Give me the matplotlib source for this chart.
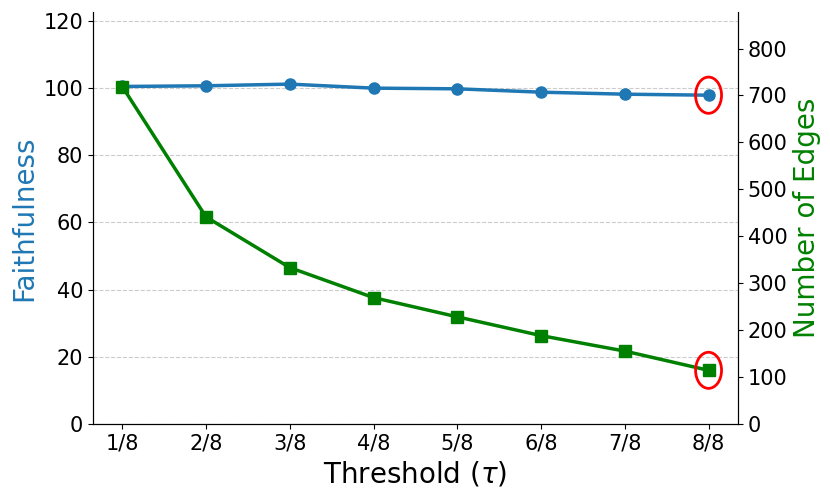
import matplotlib
matplotlib.use("Agg")
import matplotlib.pyplot as plt
from matplotlib.patches import Ellipse

thresholds = ["1/8", "2/8", "3/8", "4/8", "5/8", "6/8", "7/8", "8/8"]
faithfulness = [100.5, 100.7, 101.2, 100.0, 99.8, 98.8, 98.2, 97.9]
edges = [719, 441, 333, 269, 228, 188, 155, 114]

blue = "#1f77b4"
green = "green"

fig = plt.figure(figsize=(8.3, 4.98), dpi=100)
ax = fig.add_axes([0.112, 0.149, 0.777, 0.827])
ax2 = ax.twinx()

x = list(range(len(thresholds)))
ax.plot(x, faithfulness, color=blue, marker="o", markersize=8, linewidth=2.5, zorder=3)
ax2.plot(x, edges, color=green, marker="s", markersize=8, linewidth=2.5, zorder=3)

ax.set_ylim(0, 122.7)
ax2.set_ylim(0, 878)
ax.set_xlim(-0.35, 7.35)
ax.set_yticks(range(0, 121, 20))
ax2.set_yticks(range(0, 801, 100))
ax.set_xticks(x)
ax.set_xticklabels(thresholds)

ax.grid(axis="y", linestyle="--", color="#cccccc", linewidth=0.8)
ax.set_axisbelow(True)

ax.tick_params(labelsize=15)
ax2.tick_params(labelsize=15)
ax.set_xlabel(r"Threshold ($\tau$)", fontsize=20)
ax.set_ylabel("Faithfulness", fontsize=20, color=blue)
ax2.set_ylabel("Number of Edges", fontsize=20, color=green)

for a in (ax, ax2):
    a.spines["top"].set_visible(False)

ax.add_patch(Ellipse((7, faithfulness[-1]), 0.31, 10.8, fill=False, edgecolor="red", linewidth=2, zorder=4))
ax2.add_patch(Ellipse((7, edges[-1]), 0.31, 77, fill=False, edgecolor="red", linewidth=2, zorder=4))

fig.savefig("out.png", dpi=100)
